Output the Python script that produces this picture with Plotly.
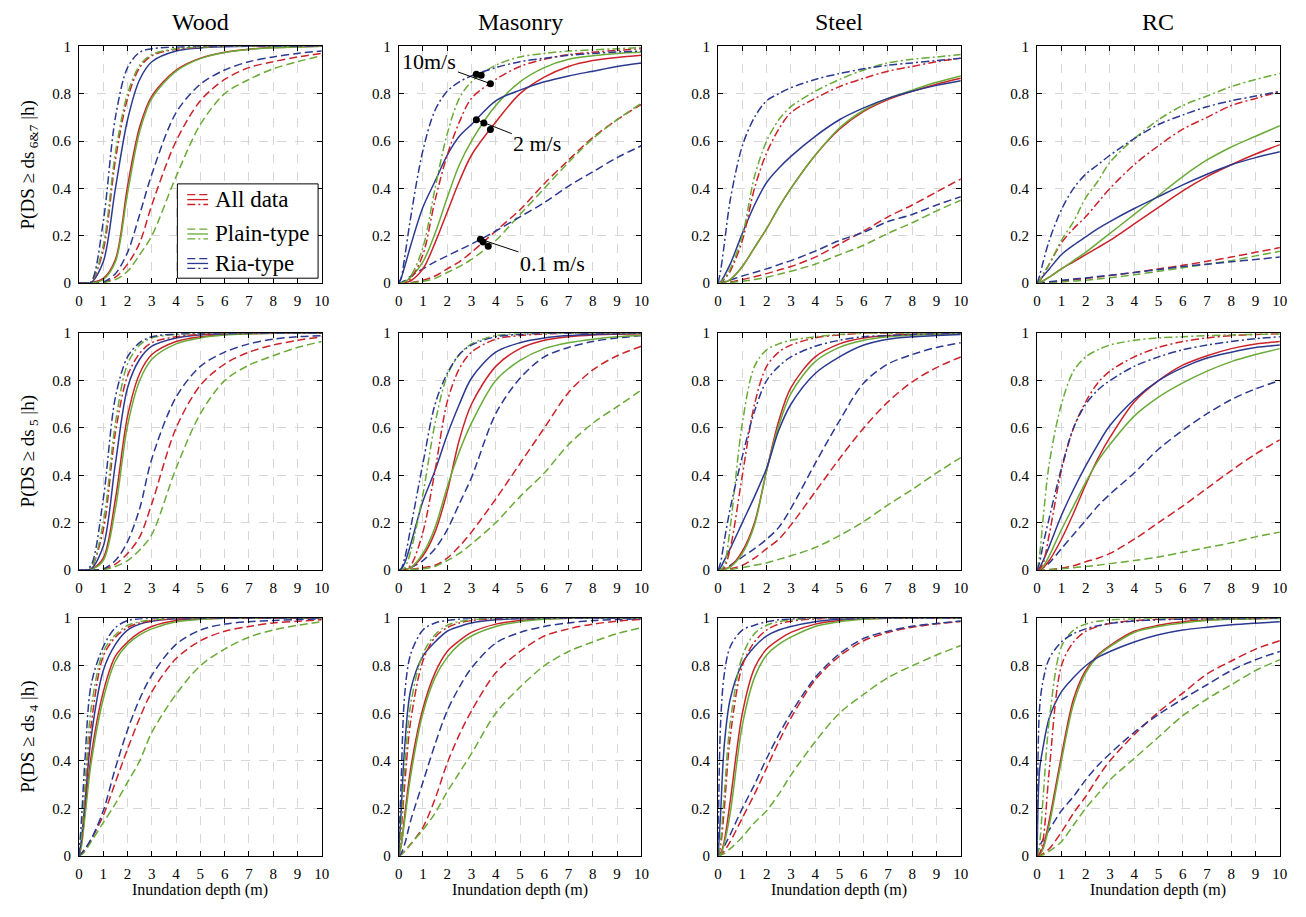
import numpy as np
import plotly.graph_objects as go

W, H = 1306, 917
FONT = "Liberation Serif"

DEPTH = [0, 0.1, 0.25, 0.5, 1, 1.5, 2, 2.5, 3, 4, 5, 6, 7, 8, 9, 10]
MATERIALS = ["Wood", "Masonry", "Steel", "RC"]
DAMAGE_STATES = ["6&amp;7", "5", "4"]
GROUP_NAMES = ["All data", "Plain-type", "Ria-type"]
X_TICKS = [0, 1, 2, 3, 4, 5, 6, 7, 8, 9, 10]
Y_TICKS = [0, 0.2, 0.4, 0.6, 0.8, 1]

# ---------------- Row 1 : ds 6&7 ----------------
wood67_R_10 = [0, 0, 0, 0.005, 0.26, 0.70, 0.91, 0.975, 0.99, 0.997, 1, 1, 1, 1, 1, 1]
wood67_P_10 = [0, 0, 0, 0.004, 0.16, 0.55, 0.80, 0.92, 0.965, 0.99, 0.997, 1, 1, 1, 1, 1]
wood67_A_10 = [0, 0, 0, 0.003, 0.14, 0.52, 0.78, 0.91, 0.96, 0.988, 0.996, 1, 1, 1, 1, 1]
wood67_R_2 = [0, 0, 0, 0.002, 0.09, 0.40, 0.69, 0.86, 0.935, 0.98, 0.993, 0.998, 1, 1, 1, 1]
wood67_A_2 = [0, 0, 0, 0.002, 0.02, 0.10, 0.41, 0.66, 0.79, 0.90, 0.95, 0.975, 0.988, 0.995, 0.998, 1]
wood67_P_2 = [0, 0, 0, 0.001, 0.015, 0.09, 0.38, 0.64, 0.78, 0.895, 0.948, 0.974, 0.987, 0.994, 0.997, 1]
wood67_R_01 = [0, 0, 0, 0, 0.005, 0.04, 0.13, 0.29, 0.46, 0.72, 0.84, 0.90, 0.935, 0.955, 0.97, 0.98]
wood67_A_01 = [0, 0, 0, 0, 0.003, 0.025, 0.08, 0.17, 0.33, 0.60, 0.77, 0.86, 0.91, 0.935, 0.955, 0.97]
wood67_P_01 = [0, 0, 0, 0, 0.002, 0.015, 0.05, 0.12, 0.20, 0.45, 0.67, 0.80, 0.86, 0.905, 0.935, 0.96]

mas67_R_10 = [0, 0.02, 0.11, 0.28, 0.56, 0.73, 0.81, 0.85, 0.875, 0.91, 0.935, 0.95, 0.962, 0.97, 0.976, 0.98]
mas67_P_10 = [0, 0, 0.005, 0.03, 0.15, 0.40, 0.63, 0.78, 0.85, 0.92, 0.955, 0.97, 0.98, 0.985, 0.99, 0.995]
mas67_A_10 = [0, 0, 0.003, 0.02, 0.12, 0.35, 0.54, 0.68, 0.78, 0.86, 0.915, 0.945, 0.965, 0.975, 0.983, 0.99]
mas67_R_2 = [0, 0.02, 0.07, 0.16, 0.32, 0.43, 0.54, 0.62, 0.67, 0.77, 0.815, 0.85, 0.875, 0.895, 0.915, 0.93]
mas67_P_2 = [0, 0, 0.005, 0.025, 0.09, 0.21, 0.36, 0.50, 0.60, 0.75, 0.85, 0.91, 0.945, 0.96, 0.97, 0.975]
mas67_A_2 = [0, 0, 0.002, 0.01, 0.06, 0.17, 0.30, 0.43, 0.54, 0.68, 0.80, 0.87, 0.915, 0.94, 0.953, 0.962]
mas67_R_01 = [0, 0.002, 0.01, 0.03, 0.06, 0.09, 0.115, 0.14, 0.165, 0.22, 0.28, 0.34, 0.41, 0.47, 0.53, 0.58]
mas67_A_01 = [0, 0, 0, 0.002, 0.012, 0.03, 0.06, 0.09, 0.13, 0.22, 0.31, 0.42, 0.52, 0.615, 0.69, 0.755]
mas67_P_01 = [0, 0, 0, 0.001, 0.008, 0.02, 0.045, 0.07, 0.10, 0.18, 0.29, 0.40, 0.51, 0.61, 0.69, 0.76]

st67_R_10 = [0, 0.05, 0.16, 0.35, 0.58, 0.70, 0.77, 0.80, 0.825, 0.86, 0.885, 0.905, 0.92, 0.93, 0.94, 0.95]
st67_P_10 = [0, 0.003, 0.02, 0.06, 0.20, 0.45, 0.60, 0.69, 0.745, 0.81, 0.86, 0.90, 0.93, 0.945, 0.955, 0.965]
st67_A_10 = [0, 0.002, 0.015, 0.05, 0.18, 0.40, 0.55, 0.65, 0.72, 0.78, 0.83, 0.865, 0.895, 0.915, 0.935, 0.95]
st67_R_2 = [0, 0.005, 0.03, 0.08, 0.21, 0.33, 0.425, 0.485, 0.535, 0.62, 0.69, 0.74, 0.78, 0.81, 0.835, 0.855]
st67_A_2 = [0, 0, 0.003, 0.015, 0.07, 0.15, 0.23, 0.32, 0.40, 0.54, 0.65, 0.725, 0.775, 0.81, 0.84, 0.865]
st67_P_2 = [0, 0, 0.003, 0.015, 0.07, 0.15, 0.23, 0.32, 0.40, 0.54, 0.655, 0.73, 0.78, 0.815, 0.848, 0.875]
st67_R_01 = [0, 0.002, 0.006, 0.013, 0.03, 0.045, 0.06, 0.078, 0.095, 0.135, 0.18, 0.215, 0.26, 0.29, 0.33, 0.365]
st67_A_01 = [0, 0, 0.002, 0.005, 0.015, 0.027, 0.04, 0.055, 0.07, 0.11, 0.165, 0.22, 0.28, 0.33, 0.385, 0.44]
st67_P_01 = [0, 0, 0.001, 0.003, 0.008, 0.015, 0.025, 0.037, 0.05, 0.08, 0.12, 0.16, 0.21, 0.255, 0.305, 0.35]

rc67_R_10 = [0, 0.03, 0.09, 0.18, 0.31, 0.40, 0.46, 0.50, 0.54, 0.61, 0.67, 0.71, 0.745, 0.77, 0.79, 0.81]
rc67_P_10 = [0, 0.01, 0.04, 0.08, 0.18, 0.26, 0.36, 0.43, 0.51, 0.61, 0.69, 0.75, 0.79, 0.83, 0.86, 0.885]
rc67_A_10 = [0, 0.01, 0.035, 0.08, 0.17, 0.23, 0.28, 0.34, 0.40, 0.50, 0.58, 0.65, 0.70, 0.75, 0.78, 0.81]
rc67_R_2 = [0, 0.01, 0.03, 0.06, 0.12, 0.16, 0.195, 0.23, 0.26, 0.315, 0.365, 0.415, 0.46, 0.50, 0.53, 0.555]
rc67_P_2 = [0, 0.003, 0.01, 0.025, 0.06, 0.095, 0.13, 0.17, 0.21, 0.29, 0.37, 0.45, 0.52, 0.575, 0.62, 0.665]
rc67_A_2 = [0, 0.003, 0.01, 0.025, 0.06, 0.09, 0.12, 0.15, 0.18, 0.25, 0.32, 0.39, 0.45, 0.50, 0.545, 0.585]
rc67_R_01 = [0, 0.001, 0.003, 0.006, 0.012, 0.017, 0.022, 0.028, 0.033, 0.045, 0.057, 0.07, 0.08, 0.09, 0.10, 0.11]
rc67_A_01 = [0, 0, 0.001, 0.003, 0.008, 0.014, 0.02, 0.026, 0.032, 0.045, 0.06, 0.075, 0.092, 0.11, 0.13, 0.15]
rc67_P_01 = [0, 0, 0.001, 0.002, 0.005, 0.009, 0.012, 0.017, 0.023, 0.035, 0.05, 0.065, 0.08, 0.095, 0.115, 0.135]

# ---------------- Row 2 : ds 5 ----------------
wood5_R_10 = [0, 0, 0, 0.02, 0.30, 0.73, 0.90, 0.96, 0.985, 0.997, 1, 1, 1, 1, 1, 1]
wood5_P_10 = [0, 0, 0, 0.01, 0.20, 0.62, 0.87, 0.95, 0.98, 0.995, 1, 1, 1, 1, 1, 1]
wood5_A_10 = [0, 0, 0, 0.01, 0.17, 0.58, 0.82, 0.915, 0.96, 0.985, 0.995, 1, 1, 1, 1, 1]
wood5_R_2 = [0, 0, 0, 0.005, 0.10, 0.45, 0.77, 0.89, 0.945, 0.98, 0.993, 0.998, 1, 1, 1, 1]
wood5_A_2 = [0, 0, 0, 0.003, 0.05, 0.30, 0.65, 0.83, 0.91, 0.965, 0.985, 0.995, 0.998, 1, 1, 1]
wood5_P_2 = [0, 0, 0, 0.002, 0.04, 0.26, 0.61, 0.80, 0.89, 0.955, 0.98, 0.992, 0.997, 1, 1, 1]
wood5_R_01 = [0, 0, 0, 0, 0.005, 0.04, 0.12, 0.26, 0.47, 0.73, 0.86, 0.92, 0.955, 0.975, 0.985, 0.99]
wood5_A_01 = [0, 0, 0, 0, 0.003, 0.025, 0.07, 0.14, 0.28, 0.60, 0.78, 0.87, 0.92, 0.95, 0.97, 0.985]
wood5_P_01 = [0, 0, 0, 0, 0.002, 0.015, 0.04, 0.085, 0.15, 0.43, 0.66, 0.80, 0.865, 0.905, 0.94, 0.965]

mas5_R_10 = [0, 0.005, 0.05, 0.18, 0.45, 0.70, 0.83, 0.91, 0.95, 0.985, 0.995, 1, 1, 1, 1, 1]
mas5_P_10 = [0, 0, 0.01, 0.08, 0.32, 0.62, 0.82, 0.91, 0.955, 0.99, 0.998, 1, 1, 1, 1, 1]
mas5_A_10 = [0, 0, 0.002, 0.02, 0.16, 0.42, 0.71, 0.85, 0.92, 0.975, 0.99, 0.997, 1, 1, 1, 1]
mas5_R_2 = [0, 0.003, 0.03, 0.11, 0.29, 0.42, 0.57, 0.70, 0.81, 0.92, 0.96, 0.98, 0.99, 0.995, 0.998, 1]
mas5_A_2 = [0, 0, 0.002, 0.01, 0.06, 0.16, 0.33, 0.55, 0.70, 0.86, 0.935, 0.97, 0.985, 0.993, 0.996, 0.998]
mas5_P_2 = [0, 0, 0.002, 0.01, 0.07, 0.18, 0.35, 0.50, 0.62, 0.80, 0.885, 0.935, 0.96, 0.975, 0.985, 0.99]
mas5_R_01 = [0, 0, 0.003, 0.01, 0.04, 0.09, 0.17, 0.28, 0.39, 0.66, 0.81, 0.90, 0.94, 0.965, 0.98, 0.99]
mas5_A_01 = [0, 0, 0, 0.003, 0.01, 0.02, 0.05, 0.10, 0.16, 0.30, 0.45, 0.60, 0.75, 0.845, 0.905, 0.945]
mas5_P_01 = [0, 0, 0, 0.002, 0.005, 0.015, 0.04, 0.07, 0.11, 0.20, 0.31, 0.41, 0.53, 0.62, 0.69, 0.76]

st5_P_10 = [0, 0, 0.02, 0.18, 0.62, 0.86, 0.93, 0.955, 0.97, 0.985, 0.995, 1, 1, 1, 1, 1]
st5_R_10 = [0, 0.03, 0.12, 0.26, 0.48, 0.67, 0.80, 0.86, 0.90, 0.945, 0.97, 0.985, 0.99, 0.995, 0.998, 1]
st5_A_10 = [0, 0, 0.01, 0.09, 0.40, 0.70, 0.86, 0.92, 0.95, 0.98, 0.993, 1, 1, 1, 1, 1]
st5_R_2 = [0, 0.01, 0.04, 0.09, 0.20, 0.31, 0.43, 0.59, 0.70, 0.83, 0.90, 0.95, 0.975, 0.985, 0.99, 0.995]
st5_A_2 = [0, 0, 0.003, 0.015, 0.08, 0.20, 0.42, 0.63, 0.77, 0.90, 0.955, 0.98, 0.99, 0.995, 0.998, 1]
st5_P_2 = [0, 0, 0.002, 0.012, 0.07, 0.19, 0.42, 0.61, 0.745, 0.88, 0.94, 0.97, 0.985, 0.992, 0.996, 1]
st5_R_01 = [0, 0.002, 0.008, 0.02, 0.055, 0.09, 0.13, 0.18, 0.26, 0.45, 0.63, 0.79, 0.87, 0.91, 0.94, 0.96]
st5_A_01 = [0, 0, 0.002, 0.005, 0.02, 0.05, 0.09, 0.13, 0.19, 0.33, 0.47, 0.60, 0.71, 0.795, 0.855, 0.90]
st5_P_01 = [0, 0, 0, 0.002, 0.01, 0.02, 0.03, 0.045, 0.06, 0.095, 0.145, 0.205, 0.275, 0.34, 0.41, 0.475]

rc5_P_10 = [0, 0.06, 0.22, 0.45, 0.70, 0.84, 0.90, 0.93, 0.95, 0.97, 0.98, 0.985, 0.99, 0.993, 0.995, 0.997]
rc5_A_10 = [0, 0.005, 0.03, 0.15, 0.42, 0.60, 0.71, 0.79, 0.84, 0.90, 0.94, 0.965, 0.98, 0.99, 0.995, 0.998]
rc5_R_10 = [0, 0.03, 0.11, 0.22, 0.43, 0.60, 0.70, 0.76, 0.80, 0.86, 0.90, 0.93, 0.95, 0.965, 0.977, 0.985]
rc5_R_2 = [0, 0.01, 0.04, 0.10, 0.23, 0.34, 0.44, 0.53, 0.61, 0.72, 0.80, 0.855, 0.895, 0.92, 0.94, 0.95]
rc5_A_2 = [0, 0.002, 0.01, 0.04, 0.13, 0.24, 0.36, 0.47, 0.56, 0.71, 0.80, 0.865, 0.905, 0.935, 0.955, 0.965]
rc5_P_2 = [0, 0.003, 0.015, 0.06, 0.17, 0.27, 0.37, 0.46, 0.53, 0.65, 0.73, 0.79, 0.84, 0.88, 0.91, 0.935]
rc5_R_01 = [0, 0.003, 0.01, 0.03, 0.09, 0.15, 0.21, 0.27, 0.32, 0.41, 0.51, 0.59, 0.66, 0.72, 0.765, 0.80]
rc5_A_01 = [0, 0, 0, 0.002, 0.008, 0.018, 0.035, 0.05, 0.07, 0.13, 0.20, 0.27, 0.345, 0.42, 0.49, 0.55]
rc5_P_01 = [0, 0, 0, 0.001, 0.005, 0.01, 0.015, 0.02, 0.027, 0.04, 0.055, 0.075, 0.095, 0.115, 0.14, 0.16]

# ---------------- Row 3 : ds 4 ----------------
wood4_R_10 = [0, 0.15, 0.41, 0.72, 0.88, 0.96, 0.99, 0.997, 1, 1, 1, 1, 1, 1, 1, 1]
wood4_P_10 = [0, 0.08, 0.30, 0.62, 0.86, 0.93, 0.97, 0.985, 0.993, 1, 1, 1, 1, 1, 1, 1]
wood4_A_10 = [0, 0.06, 0.25, 0.55, 0.84, 0.92, 0.96, 0.98, 0.99, 0.998, 1, 1, 1, 1, 1, 1]
wood4_R_2 = [0, 0.07, 0.23, 0.50, 0.78, 0.89, 0.95, 0.975, 0.987, 0.997, 1, 1, 1, 1, 1, 1]
wood4_A_2 = [0, 0.05, 0.19, 0.42, 0.69, 0.84, 0.90, 0.94, 0.965, 0.99, 0.997, 1, 1, 1, 1, 1]
wood4_P_2 = [0, 0.04, 0.17, 0.39, 0.66, 0.82, 0.89, 0.93, 0.955, 0.985, 0.995, 1, 1, 1, 1, 1]
wood4_R_01 = [0, 0.01, 0.03, 0.07, 0.19, 0.37, 0.53, 0.66, 0.76, 0.89, 0.95, 0.975, 0.985, 0.99, 0.994, 0.997]
wood4_A_01 = [0, 0.01, 0.03, 0.07, 0.17, 0.31, 0.45, 0.58, 0.69, 0.83, 0.905, 0.945, 0.965, 0.98, 0.987, 0.993]
wood4_P_01 = [0, 0.005, 0.02, 0.06, 0.14, 0.22, 0.31, 0.40, 0.52, 0.68, 0.80, 0.87, 0.92, 0.95, 0.97, 0.985]

mas4_R_10 = [0, 0.30, 0.68, 0.85, 0.95, 0.98, 0.99, 0.996, 1, 1, 1, 1, 1, 1, 1, 1]
mas4_P_10 = [0, 0.12, 0.37, 0.64, 0.85, 0.93, 0.97, 0.985, 0.993, 1, 1, 1, 1, 1, 1, 1]
mas4_A_10 = [0, 0.10, 0.30, 0.57, 0.82, 0.92, 0.96, 0.98, 0.99, 0.998, 1, 1, 1, 1, 1, 1]
mas4_R_2 = [0, 0.18, 0.46, 0.70, 0.84, 0.90, 0.945, 0.965, 0.98, 0.993, 0.998, 1, 1, 1, 1, 1]
mas4_A_2 = [0, 0.04, 0.17, 0.37, 0.62, 0.77, 0.86, 0.905, 0.94, 0.975, 0.99, 0.997, 1, 1, 1, 1]
mas4_P_2 = [0, 0.04, 0.15, 0.34, 0.60, 0.75, 0.835, 0.89, 0.925, 0.965, 0.985, 0.995, 1, 1, 1, 1]
mas4_R_01 = [0, 0.01, 0.05, 0.15, 0.31, 0.47, 0.61, 0.71, 0.79, 0.895, 0.94, 0.965, 0.98, 0.99, 0.994, 0.997]
mas4_A_01 = [0, 0.005, 0.02, 0.05, 0.12, 0.24, 0.39, 0.51, 0.61, 0.77, 0.86, 0.925, 0.955, 0.975, 0.987, 0.995]
mas4_P_01 = [0, 0.005, 0.02, 0.05, 0.11, 0.18, 0.27, 0.35, 0.43, 0.60, 0.71, 0.80, 0.86, 0.90, 0.935, 0.96]

st4_R_10 = [0, 0.55, 0.76, 0.88, 0.95, 0.97, 0.985, 0.993, 0.997, 1, 1, 1, 1, 1, 1, 1]
st4_P_10 = [0, 0.06, 0.25, 0.56, 0.84, 0.935, 0.97, 0.985, 0.993, 1, 1, 1, 1, 1, 1, 1]
st4_A_10 = [0, 0.04, 0.19, 0.50, 0.80, 0.90, 0.95, 0.975, 0.987, 0.997, 1, 1, 1, 1, 1, 1]
st4_R_2 = [0, 0.17, 0.46, 0.66, 0.81, 0.88, 0.925, 0.95, 0.965, 0.985, 0.995, 1, 1, 1, 1, 1]
st4_A_2 = [0, 0.01, 0.06, 0.23, 0.60, 0.79, 0.87, 0.91, 0.94, 0.975, 0.99, 0.997, 1, 1, 1, 1]
st4_P_2 = [0, 0.005, 0.05, 0.18, 0.55, 0.75, 0.845, 0.89, 0.92, 0.965, 0.985, 0.995, 1, 1, 1, 1]
st4_R_01 = [0, 0.01, 0.04, 0.09, 0.20, 0.30, 0.41, 0.51, 0.60, 0.75, 0.85, 0.915, 0.945, 0.966, 0.978, 0.988]
st4_A_01 = [0, 0.005, 0.02, 0.06, 0.16, 0.26, 0.37, 0.48, 0.58, 0.74, 0.84, 0.905, 0.94, 0.962, 0.976, 0.986]
st4_P_01 = [0, 0.003, 0.01, 0.03, 0.08, 0.14, 0.19, 0.26, 0.34, 0.48, 0.60, 0.68, 0.75, 0.80, 0.845, 0.885]

rc4_R_10 = [0, 0.62, 0.74, 0.83, 0.90, 0.935, 0.955, 0.968, 0.978, 0.988, 0.993, 0.996, 0.997, 0.998, 0.999, 1]
rc4_P_10 = [0, 0.05, 0.25, 0.57, 0.88, 0.95, 0.975, 0.987, 0.993, 0.998, 1, 1, 1, 1, 1, 1]
rc4_A_10 = [0, 0.01, 0.07, 0.36, 0.80, 0.90, 0.945, 0.965, 0.978, 0.99, 0.995, 0.998, 1, 1, 1, 1]
rc4_R_2 = [0, 0.36, 0.46, 0.58, 0.69, 0.75, 0.80, 0.835, 0.86, 0.90, 0.93, 0.95, 0.962, 0.972, 0.979, 0.985]
rc4_A_2 = [0, 0.005, 0.04, 0.15, 0.42, 0.66, 0.78, 0.845, 0.885, 0.945, 0.97, 0.985, 0.992, 0.996, 0.998, 1]
rc4_P_2 = [0, 0.005, 0.03, 0.13, 0.40, 0.64, 0.77, 0.84, 0.88, 0.94, 0.965, 0.98, 0.99, 0.995, 0.997, 0.999]
rc4_R_01 = [0, 0.04, 0.07, 0.11, 0.19, 0.25, 0.32, 0.38, 0.43, 0.52, 0.595, 0.66, 0.72, 0.78, 0.825, 0.86]
rc4_A_01 = [0, 0.002, 0.01, 0.03, 0.10, 0.18, 0.25, 0.33, 0.40, 0.51, 0.605, 0.685, 0.765, 0.82, 0.87, 0.905]
rc4_P_01 = [0, 0.001, 0.005, 0.02, 0.06, 0.13, 0.20, 0.26, 0.32, 0.41, 0.50, 0.59, 0.66, 0.72, 0.78, 0.825]

# annotation dot depths on the Masonry ds6&7 panel (velocity label -> depth per group)
ANNOT_DEPTHS = {
    "10": {"R": 3.2, "P": 3.4, "A": 3.78},
    "2": {"R": 3.2, "P": 3.51, "A": 3.78},
    "01": {"R": 3.37, "A": 3.48, "P": 3.69},
}

# ---------------- layout / style ----------------
PREFIX = [["wood67", "mas67", "st67", "rc67"],
          ["wood5", "mas5", "st5", "rc5"],
          ["wood4", "mas4", "st4", "rc4"]]
COLORS = {"A": "#cc2229", "P": "#6aaa37", "R": "#2b3990"}
DASH = {"01": "8px,4px", "2": "solid", "10": "8px,3px,2px,3px"}
COL_PX = [(75.7, 320.7), (398.3, 643.3), (720.7, 965.7), (1042.7, 1287.7)]
ROW_PX = [(39, 280), (331, 572), (621, 863)]


def px(x):
    return x / W


def py(y):
    return 1 - y / H


fig = go.Figure()
layout = dict(width=W, height=H, margin=dict(l=0, r=0, t=0, b=0),
              paper_bgcolor="white", plot_bgcolor="white", showlegend=False,
              font=dict(family=FONT, color="black"))
annotations = []
shapes = []

for r in range(3):
    for c in range(4):
        k = r * 4 + c + 1
        sfx = "" if k == 1 else str(k)
        axis_common = dict(showline=True, linecolor="black", linewidth=1, mirror="ticks",
                           ticks="inside", ticklen=5, tickcolor="black", tickwidth=1,
                           showgrid=True, gridcolor="#d6d6d6", griddash="dash", gridwidth=1,
                           zeroline=False, tickfont=dict(family=FONT, size=15, color="black"),
                           ticklabelstandoff=4)
        layout["xaxis" + sfx] = dict(axis_common, domain=[px(COL_PX[c][0]), px(COL_PX[c][1])],
                                     anchor="y" + sfx, range=[0, 10], tickvals=X_TICKS)
        layout["yaxis" + sfx] = dict(axis_common, domain=[py(ROW_PX[r][1]), py(ROW_PX[r][0])],
                                     anchor="x" + sfx, range=[0, 1], tickvals=Y_TICKS)
        for v in ["01", "2", "10"]:
            for g in ["A", "P", "R"]:
                vals = globals()[f"{PREFIX[r][c]}_{g}_{v}"]
                fig.add_trace(go.Scatter(
                    x=DEPTH, y=vals, mode="lines", xaxis="x" + sfx, yaxis="y" + sfx,
                    line=dict(color=COLORS[g], width=1.5, dash=DASH[v],
                              shape="spline", smoothing=0.9),
                    hoverinfo="skip"))


def text_ann(text, x, y, size, **kw):
    d = dict(text=text, x=x, y=y, xref="paper", yref="paper", showarrow=False,
             xanchor="center", yanchor="middle",
             font=dict(family=FONT, size=size, color="black"))
    d.update(kw)
    return d


# column titles and x-axis titles
for c, name in enumerate(MATERIALS):
    cx = px((COL_PX[c][0] + COL_PX[c][1]) / 2)
    annotations.append(text_ann(name, cx, py(14), 24))
    annotations.append(text_ann("Inundation depth (m)", cx, py(898), 16))

# row titles
for r, ds in enumerate(DAMAGE_STATES):
    annotations.append(text_ann(f"P(DS ≥ ds<sub> {ds}</sub> |h)", px(25),
                                py((ROW_PX[r][0] + ROW_PX[r][1]) / 2), 19, textangle=-90))

# Masonry annotations (dots + leaders)
mas_curves = {"A": "mas67_A_", "P": "mas67_P_", "R": "mas67_R_"}
label_info = {"10": ("10m/s", "A", -61, -22), "2": ("2 m/s", "R", 61, 24),
              "01": ("0.1 m/s", "R", 72, 24)}
dot_x, dot_y = [], []
for v, depths in ANNOT_DEPTHS.items():
    for g, d in depths.items():
        yv = float(np.interp(d, DEPTH, globals()[mas_curves[g] + v]))
        dot_x.append(d)
        dot_y.append(yv)
        if g == label_info[v][1]:
            annotations.append(dict(x=d, y=yv, xref="x2", yref="y2", text=label_info[v][0],
                                    showarrow=True, arrowhead=0, arrowwidth=1, arrowcolor="black",
                                    ax=label_info[v][2], ay=label_info[v][3], standoff=0,
                                    font=dict(family=FONT, size=22, color="black")))
fig.add_trace(go.Scatter(x=dot_x, y=dot_y, mode="markers", xaxis="x2", yaxis="y2",
                         marker=dict(color="black", size=7), hoverinfo="skip"))

# legend in the first panel
shapes.append(dict(type="rect", xref="paper", yref="paper", x0=px(175), x1=px(317),
                   y0=py(275), y1=py(179), fillcolor="white",
                   line=dict(color="black", width=1), layer="above"))
entry_y = [195, 230, 260]
for i, g in enumerate(["A", "P", "R"]):
    for off, v in zip([-5, 0, 5], ["01", "2", "10"]):
        shapes.append(dict(type="line", xref="paper", yref="paper", x0=px(185), x1=px(206),
                           y0=py(entry_y[i] + off), y1=py(entry_y[i] + off),
                           line=dict(color=COLORS[g], width=1.3, dash=DASH[v]), layer="above"))
    annotations.append(text_ann(GROUP_NAMES[i], px(211), py(entry_y[i]), 23, xanchor="left"))

layout["annotations"] = annotations
layout["shapes"] = shapes
fig.update_layout(**layout)
fig.write_html("out.html")
